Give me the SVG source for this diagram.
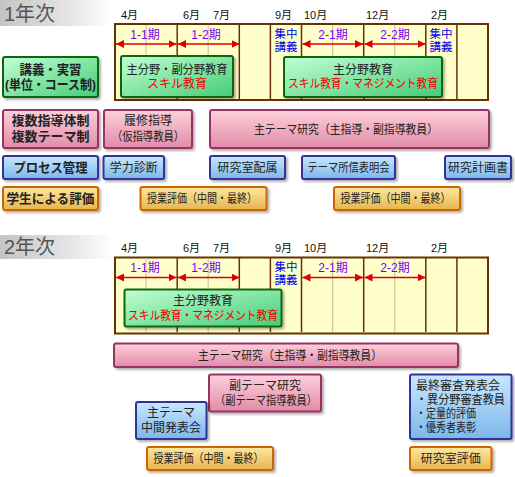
<svg xmlns="http://www.w3.org/2000/svg" width="515" height="477" viewBox="0 0 515 477">
<defs>
<linearGradient id="hdr" x1="0" y1="0" x2="1" y2="0"><stop offset="0" stop-color="#c4c4c4"/><stop offset="0.6" stop-color="#e4e4e4"/><stop offset="1" stop-color="#ffffff"/></linearGradient>
<linearGradient id="gGreen" x1="0" y1="0" x2="1" y2="1"><stop offset="0" stop-color="#c2ffd2"/><stop offset="1" stop-color="#44cc77"/></linearGradient>
<linearGradient id="gPink" x1="0" y1="0" x2="0" y2="1"><stop offset="0" stop-color="#ffd0dc"/><stop offset="1" stop-color="#e08ca6"/></linearGradient>
<linearGradient id="gBlue" x1="0" y1="0" x2="0" y2="1"><stop offset="0" stop-color="#c8e8ff"/><stop offset="1" stop-color="#7cb6ea"/></linearGradient>
<linearGradient id="gOrange" x1="0" y1="0" x2="0" y2="1"><stop offset="0" stop-color="#ffe8a0"/><stop offset="1" stop-color="#e6b44e"/></linearGradient>
<filter id="sh" x="-10%" y="-10%" width="125%" height="140%"><feDropShadow dx="2" dy="2" stdDeviation="1.2" flood-color="#000" flood-opacity="0.3"/></filter>
<marker id="ah" viewBox="0 0 8 8" refX="8" refY="4" markerWidth="8" markerHeight="8" markerUnits="userSpaceOnUse" orient="auto-start-reverse"><path d="M0,0 L8,4 L0,8 Z" fill="#dd0000"/></marker>
</defs>
<style>
text{font-family:"Liberation Sans","Noto Sans CJK JP",sans-serif;fill:#222;}
.hd{font-size:20px;fill:#555;}
.mo{font-size:11px;fill:#111;}
.pd{font-size:12px;fill:#7700ff;text-anchor:middle;}
.sc{font-size:11.5px;fill:#0000ee;text-anchor:middle;}
.t{font-size:12px;text-anchor:middle;}
.b{font-weight:bold;font-size:13px;}
.red{fill:#ee0000;}
.tl{fill:#ffffcc;stroke:#663300;stroke-width:2;}
.dk{stroke:#663300;stroke-width:1.5;}
.lt{stroke:#cccc99;stroke-width:1.2;}
.arr{stroke:#dd0000;stroke-width:1.5;marker-start:url(#ah);marker-end:url(#ah);}
.gn{fill:url(#gGreen);stroke:#116611;stroke-width:2;filter:url(#sh);}
.pk{fill:url(#gPink);stroke:#993366;stroke-width:2;filter:url(#sh);}
.bl{fill:url(#gBlue);stroke:#333399;stroke-width:2;filter:url(#sh);}
.or{fill:url(#gOrange);stroke:#cc6600;stroke-width:2;filter:url(#sh);}
</style>

<!-- Year 1 -->
<g id="year1-header"><rect x="0" y="0" width="112" height="26" fill="url(#hdr)"/><text class="hd" x="4" y="21">1年次</text></g>
<g id="timeline1">
<rect class="tl" x="115" y="24" width="373" height="76"/>
<g class="lt"><line x1="146.1" y1="25" x2="146.1" y2="99"/><line x1="208.2" y1="25" x2="208.2" y2="99"/><line x1="332.6" y1="25" x2="332.6" y2="99"/><line x1="394.7" y1="25" x2="394.7" y2="99"/></g>
<g class="dk"><line x1="177.2" y1="25" x2="177.2" y2="99"/><line x1="239.3" y1="25" x2="239.3" y2="99"/><line x1="270.4" y1="25" x2="270.4" y2="99"/><line x1="301.5" y1="25" x2="301.5" y2="99"/><line x1="363.7" y1="25" x2="363.7" y2="99"/><line x1="425.8" y1="25" x2="425.8" y2="99"/><line x1="456.9" y1="25" x2="456.9" y2="99"/></g>
<text class="mo" x="121" y="19">4月</text><text class="mo" x="183" y="19">6月</text><text class="mo" x="213" y="19">7月</text><text class="mo" x="275" y="19">9月</text><text class="mo" x="304" y="19">10月</text><text class="mo" x="366" y="19">12月</text><text class="mo" x="431" y="19">2月</text>
<text class="pd" x="145" y="39">1-1期</text><text class="pd" x="206" y="39">1-2期</text><text class="pd" x="333" y="39">2-1期</text><text class="pd" x="395" y="39">2-2期</text>
<text class="sc" x="286" y="37.5">集中</text><text class="sc" x="286" y="51">講義</text>
<text class="sc" x="441" y="37.5">集中</text><text class="sc" x="441" y="51">講義</text>
</g>
<g id="arrows1"><line class="arr" x1="116" y1="44" x2="176.5" y2="44"/><line class="arr" x1="178" y1="44" x2="239.5" y2="44"/><line class="arr" x1="302.5" y1="44" x2="363" y2="44"/><line class="arr" x1="364.5" y1="44" x2="425.5" y2="44"/></g>

<g id="lbl-lecture"><rect class="gn" x="3" y="57" width="95" height="40" rx="2"/><text class="t b" x="50.5" y="74" textLength="62" lengthAdjust="spacingAndGlyphs">講義・実習</text><text class="t b" x="50.5" y="89" textLength="91" lengthAdjust="spacingAndGlyphs">(単位・コース制)</text></g>
<g id="y1-green1"><rect class="gn" x="121" y="56" width="112" height="41" rx="2"/><text class="t" x="177" y="74" textLength="101" lengthAdjust="spacingAndGlyphs">主分野・副分野教育</text><text class="t red" x="177" y="88">スキル教育</text></g>
<g id="y1-green2"><rect class="gn" x="284" y="57" width="158" height="40" rx="2"/><text class="t" x="363" y="74">主分野教育</text><text class="t red" x="363" y="88" textLength="150" lengthAdjust="spacingAndGlyphs">スキル教育・マネジメント教育</text></g>

<g id="lbl-guidance"><rect class="pk" x="3" y="110" width="95" height="38" rx="2"/><text class="t b" x="50.5" y="125" textLength="78" lengthAdjust="spacingAndGlyphs">複数指導体制</text><text class="t b" x="50.5" y="141" textLength="78" lengthAdjust="spacingAndGlyphs">複数テーマ制</text></g>
<g id="y1-risyu"><rect class="pk" x="104" y="110" width="88" height="38" rx="2"/><text class="t" x="148" y="125">履修指導</text><text class="t" x="148" y="141" textLength="72" lengthAdjust="spacingAndGlyphs">（仮指導教員）</text></g>
<g id="y1-main"><rect class="pk" x="210" y="110" width="279" height="38" rx="2"/><text class="t" x="346" y="134" textLength="184" lengthAdjust="spacingAndGlyphs">主テーマ研究（主指導・副指導教員）</text></g>

<g id="lbl-process"><rect class="bl" x="3" y="156" width="95" height="23" rx="2"/><text class="t b" x="50.5" y="172" textLength="74" lengthAdjust="spacingAndGlyphs">プロセス管理</text></g>
<g id="y1-shindan"><rect class="bl" x="103.5" y="156" width="60.5" height="23" rx="2"/><text class="t" x="133.7" y="172">学力診断</text></g>
<g id="y1-haizoku"><rect class="bl" x="210" y="156" width="75" height="23" rx="2"/><text class="t" x="247.5" y="172">研究室配属</text></g>
<g id="y1-shoshin"><rect class="bl" x="302" y="156" width="93" height="23" rx="2"/><text class="t" x="348.5" y="172" textLength="82" lengthAdjust="spacingAndGlyphs">テーマ所信表明会</text></g>
<g id="y1-keikaku"><rect class="bl" x="445" y="156" width="66" height="23" rx="2"/><text class="t" x="478" y="172">研究計画書</text></g>

<g id="lbl-eval"><rect class="or" x="3" y="187" width="95" height="23" rx="2"/><text class="t b" x="50.5" y="203" textLength="88" lengthAdjust="spacingAndGlyphs">学生による評価</text></g>
<g id="y1-eval1"><rect class="or" x="140.5" y="187" width="126" height="23" rx="2"/><text class="t" x="202" y="203" textLength="110" lengthAdjust="spacingAndGlyphs">授業評価（中間・最終）</text></g>
<g id="y1-eval2"><rect class="or" x="334" y="187" width="126" height="23" rx="2"/><text class="t" x="395.5" y="203" textLength="110" lengthAdjust="spacingAndGlyphs">授業評価（中間・最終）</text></g>

<!-- Year 2 -->
<g id="year2-header"><rect x="0" y="235" width="112" height="24" fill="url(#hdr)"/><text class="hd" x="4" y="254">2年次</text></g>
<g id="timeline2">
<rect class="tl" x="115" y="257.5" width="373" height="76"/>
<g class="lt"><line x1="146.1" y1="258" x2="146.1" y2="332"/><line x1="208.2" y1="258" x2="208.2" y2="332"/><line x1="332.6" y1="258" x2="332.6" y2="332"/><line x1="394.7" y1="258" x2="394.7" y2="332"/></g>
<g class="dk"><line x1="177.2" y1="258" x2="177.2" y2="332"/><line x1="239.3" y1="258" x2="239.3" y2="332"/><line x1="270.4" y1="258" x2="270.4" y2="332"/><line x1="301.5" y1="258" x2="301.5" y2="332"/><line x1="363.7" y1="258" x2="363.7" y2="332"/><line x1="425.8" y1="258" x2="425.8" y2="332"/><line x1="456.9" y1="258" x2="456.9" y2="332"/></g>
<text class="mo" x="121" y="252">4月</text><text class="mo" x="183" y="252">6月</text><text class="mo" x="213" y="252">7月</text><text class="mo" x="275" y="252">9月</text><text class="mo" x="304" y="252">10月</text><text class="mo" x="366" y="252">12月</text><text class="mo" x="431" y="252">2月</text>
<text class="pd" x="145" y="272">1-1期</text><text class="pd" x="206" y="272">1-2期</text><text class="pd" x="333" y="272">2-1期</text><text class="pd" x="395" y="272">2-2期</text>
<text class="sc" x="286" y="270.5">集中</text><text class="sc" x="286" y="284">講義</text>
</g>
<g id="arrows2"><line class="arr" x1="116" y1="277.5" x2="176.5" y2="277.5"/><line class="arr" x1="178" y1="277.5" x2="239.5" y2="277.5"/><line class="arr" x1="302.5" y1="277.5" x2="363" y2="277.5"/><line class="arr" x1="364.5" y1="277.5" x2="425.5" y2="277.5"/></g>

<g id="y2-green"><rect class="gn" x="124.5" y="289.5" width="157" height="37" rx="2"/><text class="t" x="203" y="305">主分野教育</text><text class="t red" x="203" y="320" textLength="150" lengthAdjust="spacingAndGlyphs">スキル教育・マネジメント教育</text></g>
<g id="y2-main"><rect class="pk" x="114" y="343.5" width="344" height="23.5" rx="2"/><text class="t" x="290" y="360" textLength="184" lengthAdjust="spacingAndGlyphs">主テーマ研究（主指導・副指導教員）</text></g>
<g id="y2-sub"><rect class="pk" x="209" y="374.5" width="112" height="37" rx="2"/><text class="t" x="265" y="390">副テーマ研究</text><text class="t" x="266" y="405" textLength="102" lengthAdjust="spacingAndGlyphs">（副テーマ指導教員）</text></g>
<g id="y2-chukan"><rect class="bl" x="136" y="402" width="70.5" height="37" rx="2"/><text class="t" x="171" y="417">主テーマ</text><text class="t" x="171" y="432">中間発表会</text></g>
<g id="y2-final"><rect class="bl" x="410" y="374.5" width="101.5" height="64.5" rx="2"/>
<text x="416" y="390" font-size="12">最終審査発表会</text><text x="416" y="404" font-size="12" textLength="89" lengthAdjust="spacingAndGlyphs">・異分野審査教員</text><text x="416" y="418" font-size="12" textLength="60" lengthAdjust="spacingAndGlyphs">・定量的評価</text><text x="416" y="432" font-size="12" textLength="60" lengthAdjust="spacingAndGlyphs">・優秀者表彰</text></g>
<g id="y2-eval"><rect class="or" x="147" y="447" width="126" height="23" rx="2"/><text class="t" x="208.5" y="463" textLength="110" lengthAdjust="spacingAndGlyphs">授業評価（中間・最終）</text></g>
<g id="y2-labeval"><rect class="or" x="410" y="447" width="81.5" height="23" rx="2"/><text class="t" x="450.7" y="463">研究室評価</text></g>
</svg>
